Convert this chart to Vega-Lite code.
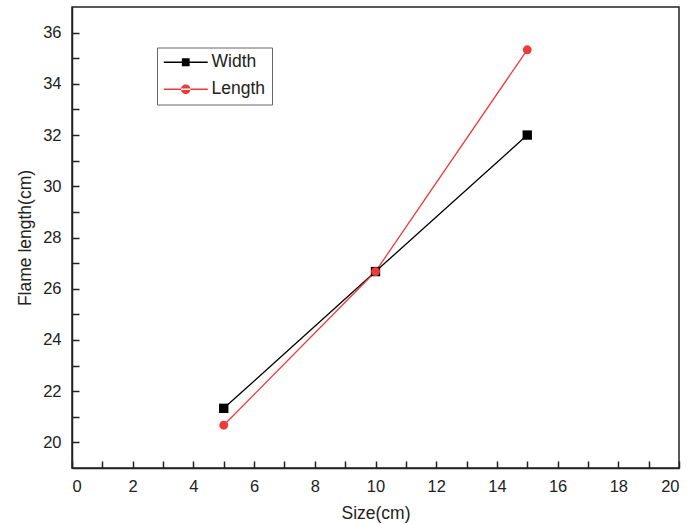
{
  "$schema": "https://vega.github.io/schema/vega-lite/v6.json",
  "autosize": "none",
  "width": 607,
  "height": 461,
  "padding": {"left": 72, "top": 7, "right": 8, "bottom": 56},
  "background": "white",
  "config": {
    "font": "Liberation Sans",
    "view": {"stroke": "#222", "strokeWidth": 1.5},
    "axis": {"grid": false, "domainColor": "#222", "domainWidth": 1.5, "tickColor": "#222", "tickWidth": 1.5, "labelColor": "#222", "titleColor": "#222", "labelFontSize": 16.5, "titleFontSize": 17.5, "titleFontWeight": "normal"}
  },
  "data": {"values": [
    {"size": 5, "value": 21.33, "series": "Width"},
    {"size": 10, "value": 26.67, "series": "Width"},
    {"size": 15, "value": 32.0, "series": "Width"},
    {"size": 5, "value": 20.67, "series": "Length"},
    {"size": 10, "value": 26.67, "series": "Length"},
    {"size": 15, "value": 35.33, "series": "Length"}
  ]},
  "encoding": {
    "x": {"field": "size", "type": "quantitative", "title": "Size(cm)",
      "scale": {"domain": [0, 20], "nice": false},
      "axis": {"values": [0,1,2,3,4,5,6,7,8,9,10,11,12,13,14,15,16,17,18,19,20], "labelExpr": "datum.value % 2 === 0 ? datum.label : ''", "tickSize": -7, "labelPadding": 17, "titlePadding": 10,
        "encode": {"ticks": {"update": {"y2": {"signal": "datum.value % 2 === 0 ? -7 : -4"}}}}}},
    "y": {"field": "value", "type": "quantitative", "title": "Flame length(cm)",
      "scale": {"domain": [19, 37], "nice": false, "zero": false},
      "axis": {"values": [20,21,22,23,24,25,26,27,28,29,30,31,32,33,34,35,36], "labelExpr": "datum.value % 2 === 0 ? datum.label : ''", "tickSize": -7, "labelPadding": 18, "titlePadding": 8,
        "encode": {"ticks": {"update": {"x2": {"signal": "datum.value % 2 === 0 ? 7 : 4"}}}}}},
    "color": {"field": "series", "type": "nominal",
      "scale": {"domain": ["Width", "Length"], "range": ["#000000", "#ee3a3a"]},
      "legend": {"title": null, "orient": "none", "legendX": 85, "legendY": 40.5, "symbolSize": 100, "symbolOffset": 14, "symbolOpacity": 1, "symbolStrokeWidth": 0, "labelFontSize": 17.5, "labelColor": "#222", "labelOffset": 17, "rowPadding": 8, "strokeColor": "#666", "padding": 6}}
  },
  "layer": [
    {"mark": {"type": "line", "strokeWidth": 1.3}},
    {"transform": [{"filter": "datum.series === 'Width'"}],
     "mark": {"type": "point", "shape": "square", "filled": true, "opacity": 1, "size": 88}},
    {"transform": [{"filter": "datum.series === 'Length'"}],
     "mark": {"type": "point", "shape": "circle", "filled": true, "opacity": 1, "size": 78}},
    {"transform": [{"filter": "false"}],
     "mark": {"type": "point", "filled": true, "opacity": 1, "size": 100},
      "encoding": {
        "shape": {"field": "series", "type": "nominal",
          "scale": {"domain": ["Width", "Length"], "range": ["M-4.4,-0.13H4.4V0.13H-4.4Z M-0.78,-0.78H0.78V0.78H-0.78Z", "M-4.4,-0.13H4.4V0.13H-4.4Z M-0.95,0A0.95,0.95 0 1,0 0.95,0A0.95,0.95 0 1,0 -0.95,0Z"]}}
      }
    }
  ]
}
